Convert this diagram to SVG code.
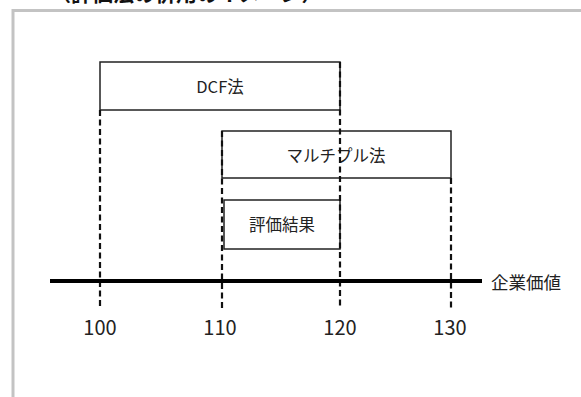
<svg xmlns="http://www.w3.org/2000/svg" width="581" height="397" viewBox="0 0 581 397">
<style>
text{font-family:"Noto Sans CJK JP","Liberation Sans",sans-serif;fill:#222;}
.box{fill:#fff;stroke:#222;stroke-width:1.5;}
.dash{stroke:#111;stroke-width:2.2;stroke-dasharray:6,3.5;fill:none;}
.lbl{font-size:16.5px;text-anchor:middle;dominant-baseline:central;}
.num{font-size:20px;text-anchor:middle;dominant-baseline:central;}
</style>
<rect x="0" y="0" width="581" height="397" fill="#fff"/>
<text x="50" y="1" font-size="21" font-weight="bold" style="fill:#111">（評価法の併用のイメージ）</text>
<rect x="13" y="10.5" width="600" height="420" fill="none" stroke="#c3c3c3" stroke-width="3"/>
<g id="nodes">
<g id="dcf"><rect class="box" x="100" y="62" width="240" height="48"/><text class="lbl" x="220" y="86">DCF法</text></g>
<g id="multiple"><rect class="box" x="222" y="131" width="229" height="47"/><text class="lbl" x="336" y="155">マルチプル法</text></g>
<g id="result"><rect class="box" x="224" y="200" width="116" height="49"/><text class="lbl" x="282" y="224">評価結果</text></g>
</g>
<g id="connectors">
<line class="dash" x1="100" y1="110" x2="100" y2="309"/>
<line class="dash" x1="222" y1="131" x2="222" y2="309"/>
<line class="dash" x1="340" y1="62" x2="340" y2="309"/>
<line class="dash" x1="451" y1="178" x2="451" y2="309"/>
<line x1="50" y1="281" x2="482" y2="281" stroke="#000" stroke-width="4"/>
</g>
<g id="axis-labels">
<text class="lbl" x="526" y="281" style="font-size:17.5px">企業価値</text>
<text class="num" x="100" y="326">100</text>
<text class="num" x="220" y="326">110</text>
<text class="num" x="340" y="326">120</text>
<text class="num" x="450" y="326">130</text>
</g>
</svg>
